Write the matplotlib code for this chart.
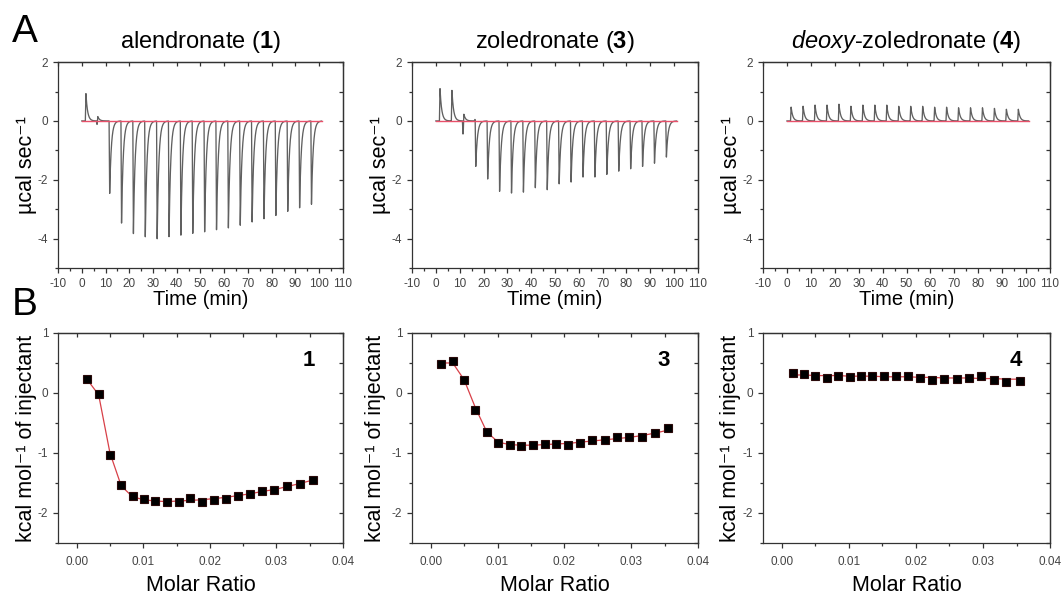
import numpy as np
import matplotlib.pyplot as plt
from matplotlib.ticker import MultipleLocator, FormatStrFormatter

plt.rcParams['font.family'] = ['Liberation Sans', 'DejaVu Sans']
plt.rcParams['mathtext.fontset'] = 'custom'
plt.rcParams['mathtext.rm'] = 'Liberation Sans'
plt.rcParams['mathtext.it'] = 'Liberation Sans:italic'
plt.rcParams['mathtext.bf'] = 'Liberation Sans:bold'
plt.rcParams['axes.unicode_minus'] = False

titles = [r'alendronate ($\mathbf{1}$)', r'zoledronate ($\mathbf{3}$)',
          r'$\mathit{deoxy}$-zoledronate ($\mathbf{4}$)']
tags = ['1', '3', '4']

# raw ITC: injection times (min) and peak heights (ucal/s)
inj_time = [1.5, 6.5, 11.5, 16.5, 21.5, 26.5, 31.5, 36.5, 41.5, 46.5,
            51.5, 56.5, 61.5, 66.5, 71.5, 76.5, 81.5, 86.5, 91.5, 96.5]
peak_aln = [0.93, 0.22, -2.47, -3.48, -3.84, -3.95, -4.02, -3.95, -3.9, -3.84,
            -3.79, -3.72, -3.66, -3.57, -3.46, -3.35, -3.24, -3.1, -2.98, -2.86]
peak_zol = [1.1, 1.04, 0.5, -1.58, -1.98, -2.4, -2.46, -2.43, -2.28, -2.35,
            -2.15, -2.09, -1.92, -1.92, -1.83, -1.72, -1.64, -1.56, -1.45, -1.24]
peak_dz = [0.47, 0.5, 0.54, 0.54, 0.57, 0.5, 0.54, 0.54, 0.54, 0.5,
           0.5, 0.5, 0.47, 0.47, 0.45, 0.45, 0.45, 0.43, 0.4, 0.4]
# small opposite-sign spikes seen on the first injections
kick_aln = [0, -0.12, 0, 0, 0, 0, 0, 0, 0, 0, 0, 0, 0, 0, 0, 0, 0, 0, 0, 0]
kick_zol = [0, 0, -0.45, 0.05, 0, 0, 0, 0, 0, 0, 0, 0, 0, 0, 0, 0, 0, 0, 0, 0]
kick_dz = [0] * 20

# integrated heats
molar_ratio = [0.0016, 0.0033, 0.0050, 0.0067, 0.0084, 0.0101, 0.0118, 0.0135,
               0.0153, 0.0171, 0.0188, 0.0206, 0.0224, 0.0242, 0.0261, 0.0279,
               0.0297, 0.0316, 0.0335, 0.0355]
dh_aln = [0.23, -0.01, -1.03, -1.53, -1.71, -1.76, -1.8, -1.81, -1.82, -1.75,
          -1.82, -1.78, -1.77, -1.72, -1.69, -1.64, -1.62, -1.55, -1.52, -1.45]
fit_aln = [0.22, -0.03, -1.0, -1.55, -1.73, -1.78, -1.8, -1.81, -1.8, -1.79,
           -1.78, -1.76, -1.74, -1.71, -1.68, -1.64, -1.61, -1.56, -1.51, -1.45]
dh_zol = [0.49, 0.54, 0.22, -0.28, -0.65, -0.84, -0.86, -0.89, -0.87, -0.85,
          -0.85, -0.87, -0.83, -0.78, -0.79, -0.73, -0.74, -0.73, -0.66, -0.59]
fit_zol = [0.5, 0.5, 0.22, -0.25, -0.65, -0.82, -0.86, -0.87, -0.87, -0.86,
           -0.85, -0.84, -0.82, -0.8, -0.78, -0.76, -0.74, -0.71, -0.67, -0.62]
dh_dz = [0.33, 0.31, 0.28, 0.25, 0.29, 0.26, 0.28, 0.28, 0.28, 0.28,
         0.28, 0.25, 0.21, 0.24, 0.24, 0.25, 0.28, 0.21, 0.19, 0.2]
fit_dz = [0.3, 0.3, 0.29, 0.29, 0.29, 0.28, 0.28, 0.28, 0.27, 0.27,
          0.27, 0.26, 0.26, 0.25, 0.25, 0.25, 0.24, 0.24, 0.23, 0.23]

raw = [(peak_aln, kick_aln), (peak_zol, kick_zol), (peak_dz, kick_dz)]
heats = [(dh_aln, fit_aln), (dh_zol, fit_zol), (dh_dz, fit_dz)]


def trace(t, times, peaks, kicks):
    # spike shape: fast rise then exponential return to baseline
    y = np.zeros_like(t)
    for t0, a, k in zip(times, peaks, kicks):
        for tt, amp in ((t0, a), (t0 - 0.35, k)):
            if amp == 0:
                continue
            u = t - tt
            y += np.where(u < 0, 0, np.where(u < 0.25, amp * u / 0.25,
                                             amp * np.exp(-(u - 0.25) / 0.7)))
    return y


def frame(ax, xmaj, xmin_, ymaj, ymin_, top_step, right_step):
    ax.xaxis.set_major_locator(MultipleLocator(xmaj))
    ax.xaxis.set_minor_locator(MultipleLocator(xmin_))
    ax.yaxis.set_major_locator(MultipleLocator(ymaj))
    ax.yaxis.set_minor_locator(MultipleLocator(ymin_))
    ax.tick_params(which='both', direction='out', labelsize=8.5,
                   labelcolor='#444', color='#333', width=0.9)
    ax.tick_params(which='major', length=3.5)
    ax.tick_params(which='minor', length=2)
    for s in ax.spines.values():
        s.set_color('#333')
        s.set_linewidth(0.9)
    top = ax.secondary_xaxis('top')
    top.xaxis.set_major_locator(MultipleLocator(top_step))
    top.tick_params(direction='in', length=3, labeltop=False, color='#333', width=0.9)
    right = ax.secondary_yaxis('right')
    right.yaxis.set_major_locator(MultipleLocator(right_step))
    right.tick_params(direction='in', length=3, labelright=False, color='#333', width=0.9)
    for sec in (top, right):
        for s in sec.spines.values():
            s.set_color('#333')
            s.set_linewidth(0.9)


fig = plt.figure(figsize=(10.63, 5.95), dpi=100)
lefts = [0.0546, 0.3876, 0.7178]
widths = [0.268, 0.269, 0.270]
ylab_x = [[-0.074, -0.074, -0.074], [-0.075, -0.09, -0.075]]

t = np.linspace(0, 101, 6000)
for i in range(3):
    ax = fig.add_axes([lefts[i], 0.5496, widths[i], 0.346])
    peaks, kicks = raw[i]
    ax.plot(t, trace(t, inj_time, peaks, kicks), color='#606060', lw=0.95)
    ax.plot([0, 101], [0, 0], color='#e8506a', lw=1.0)
    ax.set_xlim(-10, 110)
    ax.set_ylim(-5, 2)
    frame(ax, 10, 5, 2, 1, 10, 1)
    ax.set_title(titles[i], fontsize=17, pad=10)
    ax.set_xlabel('Time (min)', fontsize=14.5)
    ax.xaxis.set_label_coords(0.5, -0.105)
    ax.set_ylabel('\u00b5cal sec\u207b\u00b9', fontsize=15.5)
    ax.yaxis.set_label_coords(ylab_x[0][i], 0.5)

    bx = fig.add_axes([lefts[i], 0.0874, widths[i], 0.353])
    dh, fit = heats[i]
    bx.plot(molar_ratio, fit, color='#d84048', lw=0.9, zorder=2)
    bx.plot(molar_ratio, dh, ls='none', marker='s', ms=6, mfc='black',
            mec='#2a0a0a', mew=0.8, zorder=3)
    bx.set_xlim(-0.0028, 0.04)
    bx.set_ylim(-2.5, 1)
    frame(bx, 0.01, 0.005, 1, 0.5, 0.005, 0.5)
    bx.xaxis.set_major_formatter(FormatStrFormatter('%.2f'))
    bx.tick_params(axis='x', pad=6)
    bx.set_xlabel('Molar Ratio', fontsize=15.5)
    bx.xaxis.set_label_coords(0.5, -0.15)
    bx.set_ylabel('kcal mol\u207b\u00b9 of injectant', fontsize=15.5)
    bx.yaxis.set_label_coords(ylab_x[1][i], 0.5)
    bx.text(0.88, 0.87, tags[i], transform=bx.transAxes, fontsize=16,
            fontweight='bold', ha='center', va='center')

fig.text(0.011, 0.929, 'A', fontsize=28, ha='left', va='baseline')
fig.text(0.011, 0.47, 'B', fontsize=28, ha='left', va='baseline')

fig.savefig('out.png', dpi=100)
